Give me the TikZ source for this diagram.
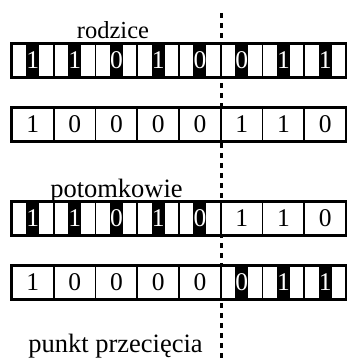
\documentclass[tikz,border=0pt]{standalone}
\usepackage{fontspec}
\setmainfont{Liberation Serif}
\begin{document}
\begin{tikzpicture}[x=1pt,y=-1pt,
  cellbox/.style={draw=black,line width=1.6pt,fill=white,minimum width=41.75pt,minimum height=32.5pt,inner sep=0pt},
  hl/.style={fill=black,draw=none,minimum width=13pt,minimum height=32.5pt,inner sep=0pt},
  digit/.style={inner sep=0pt,font=\fontsize{25.5}{25.5}\selectfont},
  rowframe/.style={draw=black,line width=3pt},
  lab/.style={anchor=base,inner sep=0pt,font=\fontsize{26.5}{26.5}\selectfont},
  cut/.style={draw=black,line width=3pt,dash pattern=on 5pt off 5pt}]
\useasboundingbox (0,0) rectangle (346,359);
% crossover point line, drawn first so the rows cover it
\coordinate (ctop) at (221.5,13);
\coordinate (cbot) at (221.5,359);
\draw[cut] (ctop) -- (cbot);
% rows of eight genes: name/top y/digits/highlight flags
\foreach \r/\yt/\digits/\marks in {
  a/44/{1,1,0,1,0,0,1,1}/{1,1,1,1,1,1,1,1},
  b/108/{1,0,0,0,0,1,1,0}/{0,0,0,0,0,0,0,0},
  c/202/{1,1,0,1,0,1,1,0}/{1,1,1,1,1,0,0,0},
  d/266/{1,0,0,0,0,0,1,1}/{0,0,0,0,0,1,1,1}}{
  \foreach \d [count=\i] in \digits {
    \node[cellbox] (\r\i) at ({12+41.75*(\i-0.5)},{\yt+16.25}) {};
  }
  \foreach \d [count=\i] in \digits {
    \pgfmathsetmacro{\m}{{\marks}[\i-1]}
    \ifdim\m pt>0.5pt
      \node[hl] (\r h\i) at (\r\i.center) {};
      \node[digit,text=white] (\r t\i) at (\r\i.center) {\d};
    \else
      \node[digit] (\r t\i) at (\r\i.center) {\d};
    \fi
  }
  \draw[rowframe] (\r1.north west) rectangle (\r8.south east);
}
\node[lab,font=\fontsize{24.5}{24.5}\selectfont] (rodzice) at (113,38) {rodzice};
\node[lab] (potomkowie) at (116.5,197) {potomkowie};
\node[lab] (punkt) at (115.5,352) {punkt przecięcia};
\end{tikzpicture}
\end{document}
